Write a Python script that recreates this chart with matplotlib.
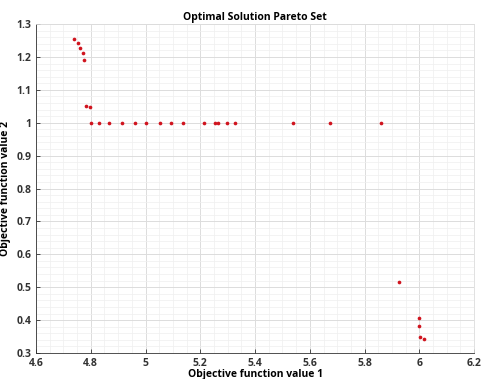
import matplotlib.pyplot as plt
from matplotlib.ticker import MultipleLocator, FormatStrFormatter

# objective values
obj1 = [4.738, 4.755, 4.762, 4.770, 4.775, 4.784, 4.796,
        4.800, 4.831, 4.866, 4.913, 4.962, 5.002, 5.054, 5.093, 5.136,
        5.212, 5.252, 5.266, 5.297, 5.327, 5.540, 5.674, 5.859,
        5.927, 5.998, 5.999, 6.002, 6.018]
obj2 = [1.254, 1.243, 1.226, 1.211, 1.191, 1.051, 1.047,
        1.0, 1.0, 1.0, 1.0, 1.0, 1.0, 1.0, 1.0, 1.0,
        1.0, 1.0, 1.0, 1.0, 1.0, 1.0, 1.0, 1.0,
        0.517, 0.405, 0.382, 0.350, 0.343]

xticks = [4.6, 4.8, 5.0, 5.2, 5.4, 5.6, 5.8, 6.0, 6.2]
yticks = [0.3, 0.4, 0.5, 0.6, 0.7, 0.8, 0.9, 1.0, 1.1, 1.2, 1.3]

plt.rcParams['font.family'] = ['Open Sans', 'DejaVu Sans']

fig = plt.figure(figsize=(4.82, 3.79), dpi=100)
ax = fig.add_axes([0.0747, 0.0686, 0.909, 0.868])

ax.scatter(obj1, obj2, s=7, color='#d0141e', zorder=3, linewidths=0)

ax.set_xticks(xticks)
ax.set_yticks(yticks)
ax.xaxis.set_minor_locator(MultipleLocator(0.05))
ax.yaxis.set_minor_locator(MultipleLocator(0.02))
ax.xaxis.set_major_formatter(FormatStrFormatter('%g'))
ax.yaxis.set_major_formatter(FormatStrFormatter('%g'))
ax.set_xlim(4.6, 6.2)
ax.set_ylim(0.3, 1.3)

ax.grid(which='major', color='#dcdcdc', linewidth=0.7)
ax.grid(which='minor', color='#efefef', linewidth=0.5)
ax.set_axisbelow(True)

ax.tick_params(which='both', direction='in', colors='#333333', labelsize=7.5)
ax.tick_params(which='major', length=3, width=0.6)
ax.tick_params(which='minor', length=0)
for lab in ax.get_xticklabels() + ax.get_yticklabels():
    lab.set_fontweight('bold')
ax.spines['left'].set_color('#333333')
ax.spines['bottom'].set_color('#333333')
ax.spines['top'].set_color('#dcdcdc')
ax.spines['right'].set_color('#dcdcdc')
for s in ax.spines.values():
    s.set_linewidth(0.6)

ax.set_title('Optimal Solution Pareto Set', fontsize=7.5, fontweight='bold', pad=3)
ax.set_xlabel('Objective function value 1', fontsize=7.5, fontweight='bold', labelpad=0)
ax.set_ylabel('Objective function value 2', fontsize=7.5, fontweight='bold', labelpad=4)

fig.savefig('out.png', dpi=100)
